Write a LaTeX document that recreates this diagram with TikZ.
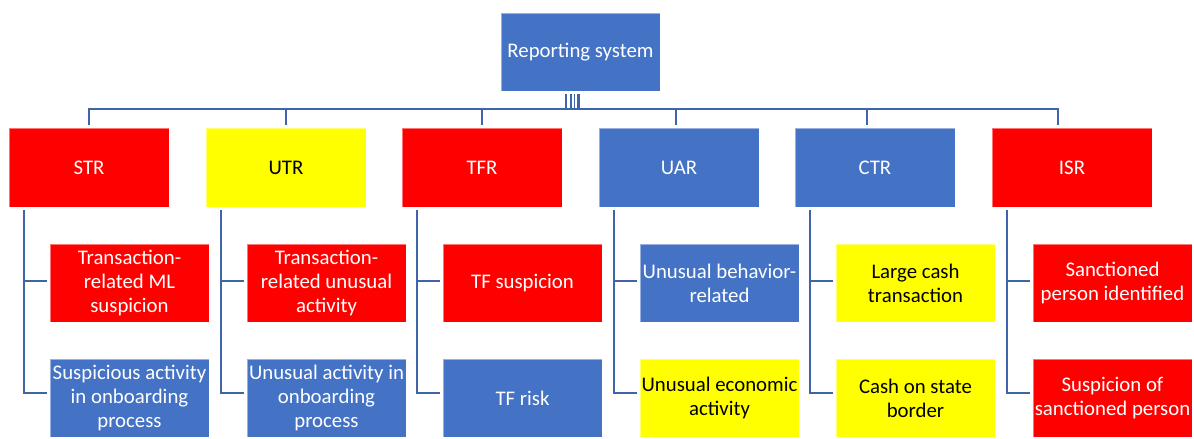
\documentclass[tikz,border=0pt]{standalone}
\usepackage{fontspec}
\setmainfont{Carlito}
\definecolor{cred}{HTML}{FF0000}
\definecolor{cyel}{HTML}{FFFF00}
\definecolor{cblue}{HTML}{4472C4}
\definecolor{cline}{RGB}{62,100,170}
\tikzset{
  box/.style={rectangle, minimum width=160pt, minimum height=79pt, inner sep=0pt,
    draw=white, draw opacity=0.45, line width=0.8pt, align=center,
    font=\fontsize{20.8}{24}\selectfont},
  child/.style={box, minimum width=159pt, minimum height=78pt},
  redbox/.style={fill=cred, text=white},
  yelbox/.style={fill=cyel, text=black},
  bluebox/.style={fill=cblue, text=white},
  conn/.style={draw=cline, line width=2.2pt},
}
\begin{document}
\begin{tikzpicture}[x=1pt,y=-1pt]
\useasboundingbox (0,0) rectangle (1194,439);
% top
\node[box, bluebox, minimum width=159pt, minimum height=78pt] (top) at (580.5,52) {Reporting system};
% parents
\node[box, redbox]  (p1) at (89,167.5)   {STR};
\node[box, yelbox]  (p2) at (286,167.5)  {UTR};
\node[box, redbox]  (p3) at (482,167.5)  {TFR};
\node[box, bluebox] (p4) at (679,167.5)  {UAR};
\node[box, bluebox] (p5) at (875,167.5)  {CTR};
\node[box, redbox]  (p6) at (1072,167.5) {ISR};
% children
\node[child, redbox]  (c1a) at (129.5,283) {Transaction-\\related ML\\suspicion};
\node[child, bluebox] (c1b) at (129.5,398) {Suspicious activity\\in onboarding\\process};
\node[child, redbox]  (c2a) at (326.5,283) {Transaction-\\related unusual\\activity};
\node[child, bluebox] (c2b) at (326.5,398) {Unusual activity in\\onboarding\\process};
\node[child, redbox]  (c3a) at (522.5,283) {TF suspicion};
\node[child, bluebox] (c3b) at (522.5,398) {TF risk};
\node[child, bluebox] (c4a) at (719.5,283) {Unusual behavior-\\related};
\node[child, yelbox]  (c4b) at (719.5,398) {Unusual economic\\activity};
\node[child, yelbox]  (c5a) at (915.5,283) {Large cash\\transaction};
\node[child, yelbox]  (c5b) at (915.5,398) {Cash on state\\border};
\node[child, redbox]  (c6a) at (1112.5,283) {Sanctioned\\person identified};
\node[child, redbox]  (c6b) at (1112.5,398) {Suspicion of\\sanctioned person};
% bus
\coordinate (d1) at (89,109);
\coordinate (d2) at (286,109);
\coordinate (d3) at (482,109);
\coordinate (d4) at (676,109);
\coordinate (d5) at (867,109);
\coordinate (d6) at (1058,109);
\draw[conn] ([xshift=-1.1pt]d1) -- ([xshift=1.1pt]d6);
\foreach \i in {1,...,6} {
  \draw[conn, shorten >=3pt] (d\i) -- (d\i |- p\i.north);
}
% stubs under top box
\foreach \dx/\w in {-14.5/2.4, -9.5/1.8, -6/1.8, -2.5/3} {
  \draw[draw=cline, line width=\w pt] ([xshift=\dx pt,yshift=-3pt]top.south) -- ++(0,15);
}
% child connectors
\foreach \i in {1,...,6} {
  \coordinate (s\i) at ([xshift=15pt,yshift=-3pt]p\i.south west);
  \draw[conn, shorten >=3pt] (s\i) |- ([yshift=5pt]c\i b.west);
  \draw[conn, shorten <=3pt] ([yshift=2pt]c\i a.west) -| (s\i);
}
\end{tikzpicture}
\end{document}
